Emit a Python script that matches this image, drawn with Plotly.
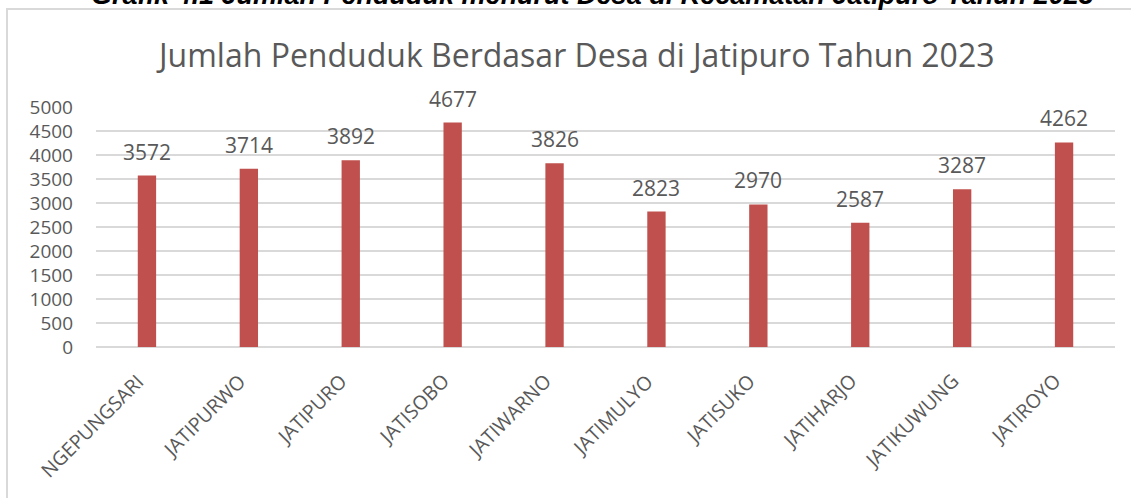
import plotly.graph_objects as go

desa = ["NGEPUNGSARI", "JATIPURWO", "JATIPURO", "JATISOBO", "JATIWARNO",
        "JATIMULYO", "JATISUKO", "JATIHARJO", "JATIKUWUNG", "JATIROYO"]
penduduk = [3572, 3714, 3892, 4677, 3826, 2823, 2970, 2587, 3287, 4262]
y_ticks = [0, 500, 1000, 1500, 2000, 2500, 3000, 3500, 4000, 4500, 5000]

W, H = 1131, 498
L, R, T, B = 96, 16, 107, 151
ph = H - T - B
pw = W - L - R

grey = "#595959"
FONT = "Open Sans"

fig = go.Figure()
fig.add_trace(go.Bar(x=desa, y=penduduk, marker=dict(color="#c0504d", line=dict(width=0)),
                     hoverinfo="x+y"))

# value labels above bars
for d, v in zip(desa, penduduk):
    fig.add_annotation(x=d, y=v, text=str(v), showarrow=False, yanchor="bottom",
                       yshift=8, font=dict(family=FONT, size=21, color=grey))

# category labels, rotated
for d in desa:
    fig.add_annotation(x=d, y=0, text=d, showarrow=False, textangle=-45,
                       xanchor="right", yanchor="top", xshift=5, yshift=-18,
                       font=dict(family=FONT, size=19.5, color=grey))

def py(pix):
    return 1 + (T - pix) / ph

def px(pix):
    return (pix - L) / pw

fig.add_annotation(xref="paper", yref="paper", x=px(575), y=py(54),
                   text="Jumlah Penduduk Berdasar Desa di Jatipuro Tahun 2023",
                   showarrow=False, xanchor="center", yanchor="middle",
                   font=dict(family=FONT, size=32, color=grey))
fig.add_annotation(xref="paper", yref="paper", x=px(592), y=py(12),
                   text="<b><i>Grafik 4.1 Jumlah Penduduk menurut Desa di Kecamatan Jatipuro Tahun 2023</i></b>",
                   showarrow=False, xanchor="center", yanchor="bottom",
                   font=dict(family="Liberation Sans", size=27, color="#000000"))

fig.add_shape(type="rect", xref="paper", yref="paper", x0=px(7), x1=px(1150), y0=py(520), y1=py(9),
              line=dict(color="#d9d9d9", width=2), layer="below")

fig.update_layout(
    width=W, height=H, margin=dict(l=L, r=R, t=T, b=B, autoexpand=False),
    paper_bgcolor="white", plot_bgcolor="white", showlegend=False,
    bargap=0.82,
    xaxis=dict(range=[-0.5, len(desa) - 0.5], showticklabels=False, showline=False, showgrid=False,
               ticks="", automargin=False),
    yaxis=dict(range=[0, 5000], tickvals=y_ticks, tickfont=dict(family=FONT, size=19, color=grey),
               showgrid=True, gridcolor="#d9d9d9", gridwidth=2, zeroline=True, zerolinecolor="#d9d9d9",
               zerolinewidth=2, showline=False, ticks="", ticklabelstandoff=22, automargin=False),
)

fig.write_html("out.html", config={"displayModeBar": False},
               post_script="document.body.style.margin='0';document.body.style.overflow='hidden';")
